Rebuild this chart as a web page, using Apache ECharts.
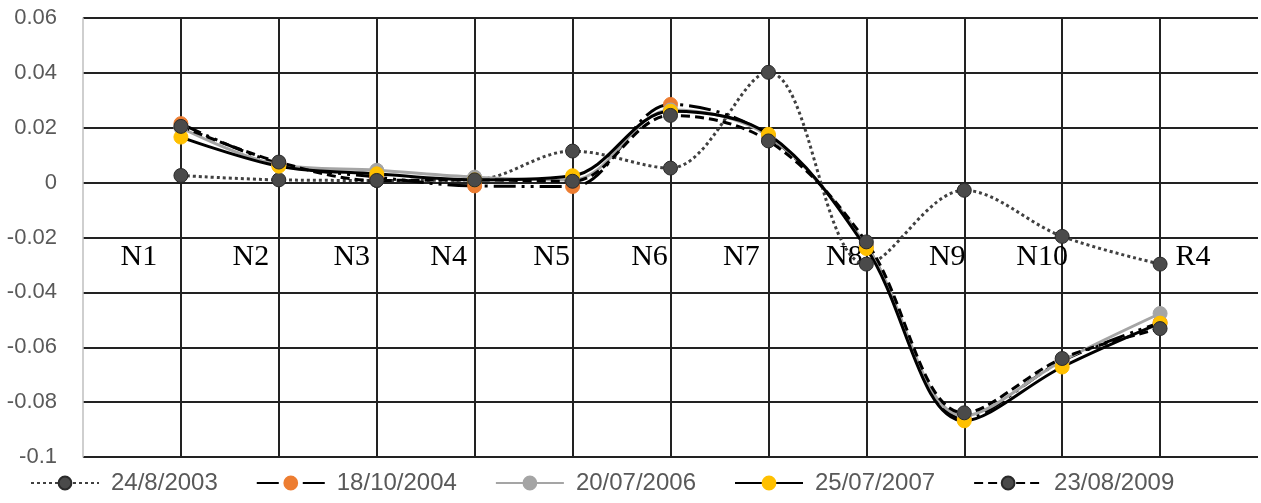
<!DOCTYPE html>
<html><head><meta charset="utf-8">
<script src="https://cdn.jsdelivr.net/npm/echarts@6/dist/echarts.min.js"></script>
<style>html,body{margin:0;padding:0;background:#fff}#c{width:1261px;height:503px}</style>
</head><body><div id="c"></div><script>
// ---- data ----
const categories = ['', 'N1', 'N2', 'N3', 'N4', 'N5', 'N6', 'N7', 'N8', 'N9', 'N10', 'R4', ''];
const seriesNames = ['24/8/2003', '18/10/2004', '20/07/2006', '25/07/2007', '23/08/2009'];
const s2003 = [null, 0.0026, 0.0010, 0.0008, 0.0010, 0.0115, 0.0053, 0.0402, -0.0297, -0.0028, -0.0196, -0.0297, null];
const s2004 = [null, 0.0215, 0.0070, 0.0020, -0.0012, -0.0014, 0.0285, 0.0170, -0.0230, -0.0860, -0.0650, -0.0510, null];
const s2006 = [null, 0.0200, 0.0065, 0.0045, 0.0020, 0.0010, 0.0265, 0.0170, -0.0230, -0.0850, -0.0650, -0.0477, null];
const s2007 = [null, 0.0166, 0.0060, 0.0032, 0.0010, 0.0025, 0.0260, 0.0176, -0.0240, -0.0868, -0.0672, -0.0512, null];
const s2009 = [null, 0.0205, 0.0075, 0.0008, 0.0010, 0.0005, 0.0245, 0.0152, -0.0216, -0.0839, -0.0641, -0.0532, null];
const yMin = -0.1, yMax = 0.06, yStep = 0.02;

// ---- layout / style ----
const labelShift = [0, -42, -28, -25, -26, -21, -21, -27, -22, -17, -20, 33, 0];
const rich = {};
labelShift.forEach((d, i) => {
  rich['s' + i] = {
    fontFamily: 'Liberation Serif', fontSize: 30, color: '#000',
    padding: d < 0 ? [0, -2 * d, 0, 0] : [0, 0, 0, 2 * d]
  };
});
const grid = '#222222';
const styles = [
  { line: { color: '#404040', width: 3, type: [3, 3] }, fill: '#4a4a4a', border: '#2a2a2a' },
  { line: { color: '#000000', width: 3, type: [22, 6, 3, 6, 3, 6] }, fill: '#ED7D31', border: '#ED7D31' },
  { line: { color: '#A5A5A5', width: 3, type: 'solid' }, fill: '#A5A5A5', border: '#A5A5A5' },
  { line: { color: '#000000', width: 3, type: 'solid' }, fill: '#FFC000', border: '#FFC000' },
  { line: { color: '#000000', width: 3, type: [9, 5] }, fill: '#4a4a4a', border: '#2a2a2a' }
];
const allData = [s2003, s2004, s2006, s2007, s2009];

const chart = echarts.init(document.getElementById('c'), null, { renderer: 'canvas' });
chart.setOption({
  animation: false,
  backgroundColor: '#fff',
  grid: { left: 83, right: 0, top: 18, bottom: 46, containLabel: false },
  legend: {
    left: 30, top: 471, padding: 0,
    itemWidth: 68, itemHeight: 16, itemGap: 38,
    textStyle: { fontFamily: 'Liberation Sans', fontSize: 24, color: '#595959', padding: [0, 0, 0, 7] },
    data: seriesNames
  },
  xAxis: {
    type: 'category', data: categories, boundaryGap: false,
    offset: -219.5,
    axisLine: { show: false }, axisTick: { show: false },
    axisLabel: {
      interval: 0, margin: 5, hideOverlap: false,
      formatter: (v, i) => v ? '{s' + i + '|' + v + '}' : '',
      rich: rich
    },
    splitLine: {
      show: true,
      interval: (i) => i > 0 && i < categories.length - 1,
      lineStyle: { color: grid, width: 2 }
    }
  },
  yAxis: {
    type: 'value', min: yMin, max: yMax, interval: yStep,
    axisLine: { show: true, lineStyle: { color: '#bfbfbf', width: 1.5 } },
    axisTick: { show: false },
    axisLabel: { fontFamily: 'Liberation Sans', fontSize: 22, color: '#595959', margin: 26 },
    splitLine: { show: true, lineStyle: { color: grid, width: 2 } }
  },
  series: allData.map((d, k) => ({
    name: seriesNames[k], type: 'line', data: d, smooth: 0.35,
    symbol: 'circle', symbolSize: 14, showSymbol: true,
    lineStyle: styles[k].line,
    itemStyle: { color: styles[k].fill, borderColor: styles[k].border, borderWidth: 1 },
    emphasis: { disabled: true }
  }))
});
</script></body></html>
